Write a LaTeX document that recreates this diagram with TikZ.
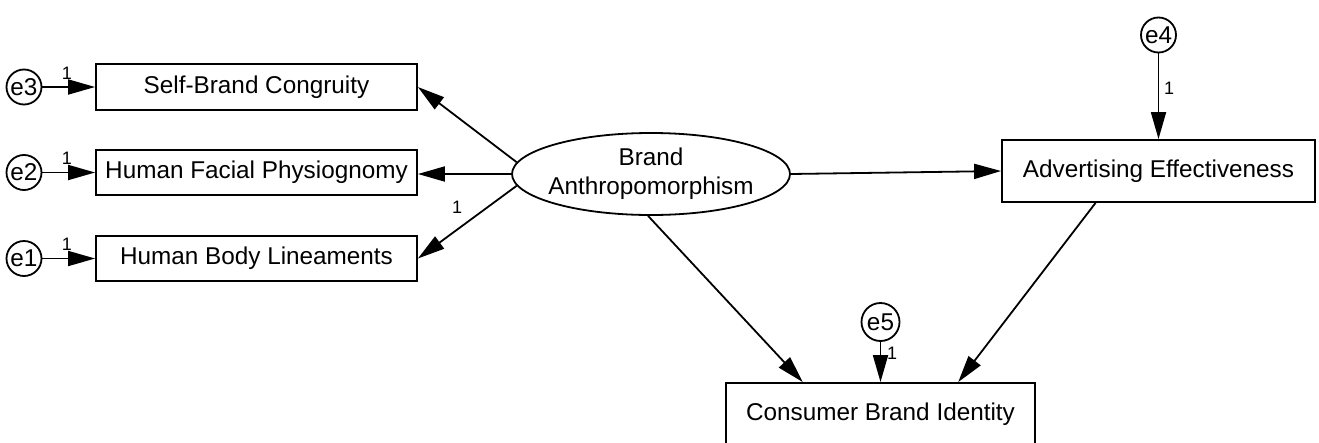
\documentclass[tikz,border=0pt]{standalone}
\usepackage{fontspec}
\setmainfont{Liberation Sans}
\usetikzlibrary{arrows.meta,shapes.geometric,calc}
\begin{document}
\begin{tikzpicture}[x=1pt,y=-1pt,
  every node/.style={font=\fontsize{24.3}{28}\selectfont},
  obs/.style={draw,line width=1.8pt,rectangle,inner sep=0pt},
  err/.style={draw,line width=1.8pt,circle,minimum size=35pt,inner sep=0pt},
  lat/.style={draw,line width=1.8pt,ellipse,minimum width=278pt,minimum height=82pt,inner xsep=-10pt,inner ysep=0pt,align=center},
  one/.style={font=\fontsize{18}{20}\selectfont,inner sep=0pt},
  path/.style={line width=1.8pt,-{Triangle[length=27pt,width=15pt]}}]
\useasboundingbox (0,0) rectangle (1319,442);
\clip (0,0) rectangle (1319,442);
\fill[white] (0,0) rectangle (1319,442);
% observed variables
\node[obs,minimum width=321pt,minimum height=46pt] (sbc) at (256.5,87) {Self-Brand Congruity};
\node[obs,minimum width=321pt,minimum height=45pt] (hfp) at (256.5,172.5) {Human Facial Physiognomy};
\node[obs,minimum width=321pt,minimum height=45pt] (hbl) at (256.5,258.5) {Human Body Lineaments};
\node[obs,minimum width=313pt,minimum height=62pt] (ae) at (1158.5,171) {Advertising Effectiveness};
\node[obs,minimum width=309pt,minimum height=62pt] (cbi) at (880.5,414) {Consumer Brand Identity};
% latent
\node[lat] (ba) at (651,174) {Brand\\[1pt]Anthropomorphism};
% errors
\node[err] (e3) at (24,87) {e3};
\node[err] (e2) at (24,172.5) {e2};
\node[err] (e1) at (24,258.5) {e1};
\node[err] (e4) at (1158.5,35) {e4};
\node[err,minimum size=38pt] (e5) at (880.5,322) {e5};
% error paths
\draw[path] (e3) -- (sbc);
\draw[path] (e2) -- (hfp);
\draw[path] (e1) -- (hbl);
\draw[path] (e4) -- (ae);
\draw[path] (e5) -- (cbi);
\node[one] (l3) at (67,73) {1};
\node[one] (l2) at (67,158) {1};
\node[one] (l1) at (67,244) {1};
\node[one] (l4) at (1169,88) {1};
\node[one] (l5) at (892,353) {1};
% structural paths
\draw[path] (ba.175) -- (sbc.east);
\draw[path] (ba.west) -- (ba.west -| hfp.east);
\draw[path] (ba.185) -- (hbl.east);
\node[one] (lb) at (457,207) {1};
\draw[path] (ba.east) -- (ae.west);
\draw[path] (ba.266) -- ($(cbi.north west)!0.25!(cbi.north east)$);
\draw[path] ($(ae.south west)!0.3!(ae.south east)$) -- ($(cbi.north west)!0.75!(cbi.north east)$);
\end{tikzpicture}
\end{document}
